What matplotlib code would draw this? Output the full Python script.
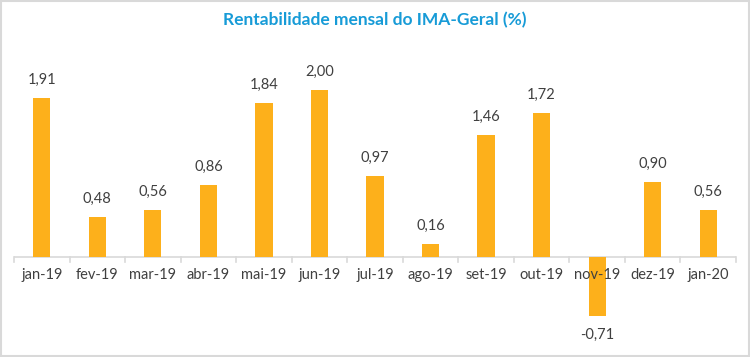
import matplotlib.pyplot as plt
import numpy as np
from matplotlib.patches import Rectangle

months = ['jan-19', 'fev-19', 'mar-19', 'abr-19', 'mai-19', 'jun-19', 'jul-19',
          'ago-19', 'set-19', 'out-19', 'nov-19', 'dez-19', 'jan-20']
rent = [1.91, 0.48, 0.56, 0.86, 1.84, 2.00, 0.97, 0.16, 1.46, 1.72, -0.71, 0.90, 0.56]
labels = ['1,91', '0,48', '0,56', '0,86', '1,84', '2,00', '0,97',
          '0,16', '1,46', '1,72', '-0,71', '0,90', '0,56']

plt.rcParams['font.family'] = ['Lato', 'DejaVu Sans']

W, H = 750, 357
fig = plt.figure(figsize=(7.5, 3.57), dpi=100)

# plot area in pixels: x 14..736, y 70..330 (from top), zero line at 257
left, right, top, bottom = 14, 736, 70, 330
ax = fig.add_axes([left / W, 1 - bottom / H, (right - left) / W, (bottom - top) / H])
ppu = 83.5
ax.set_ylim(-(bottom - 257) / ppu, (257 - top) / ppu)
ax.set_xlim(-0.5, len(months) - 0.5)

x = np.arange(len(months))
ax.bar(x, rent, width=0.31, color='#FDB01B', zorder=2)

ax.axhline(0, color='#D9D9D9', lw=1.2, zorder=1)
for b in np.arange(-0.5, len(months), 1.0):
    ax.plot([b, b], [0, -5 / ppu], color='#D9D9D9', lw=1.2, zorder=1, clip_on=False)

for i, (v, t) in enumerate(zip(rent, labels)):
    if v >= 0:
        ax.annotate(t, (i, v), xytext=(0, 8), textcoords='offset points',
                    ha='center', va='bottom', fontsize=10.5, color='#404040')
    else:
        ax.annotate(t, (i, v), xytext=(0, -8), textcoords='offset points',
                    ha='center', va='top', fontsize=10.5, color='#404040')
    ax.annotate(months[i], (i, 0), xytext=(0, -13), textcoords='offset points',
                ha='center', va='center', fontsize=10.5, color='#404040', zorder=3)

ax.axis('off')

fig.text(0.5, 1 - 20 / H, 'Rentabilidade mensal do IMA-Geral (%)', ha='center', va='center',
         fontsize=12.5, fontweight='bold', color='#179BD7')

fig.patches.append(Rectangle((0.001, 0.002), 0.997, 0.995, transform=fig.transFigure,
                             fill=False, edgecolor='#D9D9D9', lw=1.5))

fig.savefig('out.png', dpi=100)
